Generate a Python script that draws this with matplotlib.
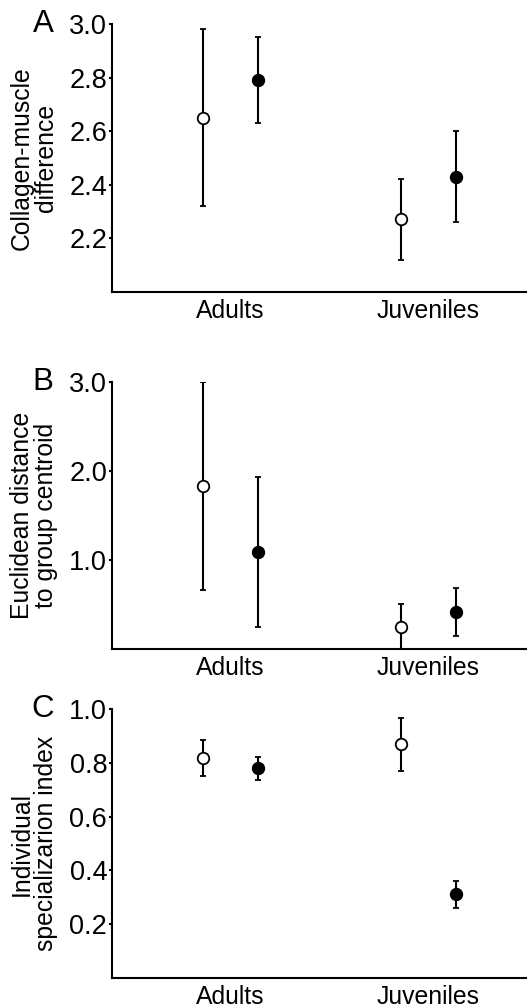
import numpy as np
import matplotlib
matplotlib.use('Agg')
import matplotlib.pyplot as plt

plt.rcParams['font.family'] = ['Liberation Sans', 'DejaVu Sans']

groups = ['Adults', 'Juveniles']

# panel A - collagen-muscle difference
a_open_mean = [2.65, 2.27]
a_open_lo = [2.32, 2.12]
a_open_hi = [2.98, 2.42]
a_fill_mean = [2.79, 2.43]
a_fill_lo = [2.63, 2.26]
a_fill_hi = [2.95, 2.60]

# panel B - euclidean distance to centroid
b_open_mean = [1.83, 0.245]
b_open_lo = [0.66, -0.03]
b_open_hi = [3.00, 0.51]
b_fill_mean = [1.09, 0.42]
b_fill_lo = [0.25, 0.15]
b_fill_hi = [1.93, 0.685]

# panel C - individual specialization index
c_open_mean = [0.82, 0.87]
c_open_lo = [0.752, 0.769]
c_open_hi = [0.884, 0.969]
c_fill_mean = [0.78, 0.31]
c_fill_lo = [0.737, 0.259]
c_fill_hi = [0.822, 0.362]

panels = [
    ('A', 'Collagen-muscle\ndifference', (2.0, 3.0), [2.2, 2.4, 2.6, 2.8, 3.0], '%.1f',
     a_open_mean, a_open_lo, a_open_hi, a_fill_mean, a_fill_lo, a_fill_hi),
    ('B', 'Euclidean distance\nto group centroid', (0.0, 3.0), [1.0, 2.0, 3.0], '%.1f',
     b_open_mean, b_open_lo, b_open_hi, b_fill_mean, b_fill_lo, b_fill_hi),
    ('C', 'Individual\nspecializarion index', (0.0, 1.0), [0.2, 0.4, 0.6, 0.8, 1.0], '%.1f',
     c_open_mean, c_open_lo, c_open_hi, c_fill_mean, c_fill_lo, c_fill_hi),
]

fig = plt.figure(figsize=(5.27, 10.07), dpi=100)
W, H = 527.0, 1007.0
left_px = 112
boxes = [(24, 291.7), (381.7, 649.3), (709.3, 977.7)]

x = np.arange(len(groups))
off = 0.14

for (letter, ylab, ylim, yticks, fmt, om, olo, ohi, fm, flo, fhi), (top, bot) in zip(panels, boxes):
    ax = fig.add_axes([left_px / W, 1 - bot / H, 1 - left_px / W, (bot - top) / H])
    om, olo, ohi = np.array(om), np.array(olo), np.array(ohi)
    fm, flo, fhi = np.array(fm), np.array(flo), np.array(fhi)

    ax.errorbar(x - off, om, yerr=[om - olo, ohi - om], fmt='o', color='black',
                mfc='white', mec='black', mew=1.3, ms=8.3, elinewidth=1.5,
                capsize=2.5, capthick=1.5, zorder=3)
    ax.errorbar(x + off, fm, yerr=[fm - flo, fhi - fm], fmt='o', color='black',
                mfc='black', mec='black', mew=1.3, ms=8.3, elinewidth=1.5,
                capsize=2.5, capthick=1.5, zorder=3)

    ax.set_xlim(-0.6, 1.5)
    ax.set_ylim(*ylim)
    ax.set_xticks(x)
    ax.set_xticklabels(groups, fontsize=17.8)
    ax.set_yticks(yticks)
    ax.set_yticklabels([fmt % t for t in yticks], fontsize=19.5)
    ax.tick_params(axis='x', length=0, pad=5)
    ax.tick_params(axis='y', length=2.5, width=1.5, pad=1)

    for s in ['top', 'right']:
        ax.spines[s].set_visible(False)
    for s in ['left', 'bottom']:
        ax.spines[s].set_linewidth(1.5)

    ax.set_ylabel(ylab, fontsize=17.8, va='center', linespacing=1.05)
    ax.yaxis.set_label_coords(-0.188, 0.5)

    ax.text(-0.166, 1.0, letter, transform=ax.transAxes, fontsize=22.5,
            ha='center', va='center')

fig.savefig('out.png', dpi=100)
